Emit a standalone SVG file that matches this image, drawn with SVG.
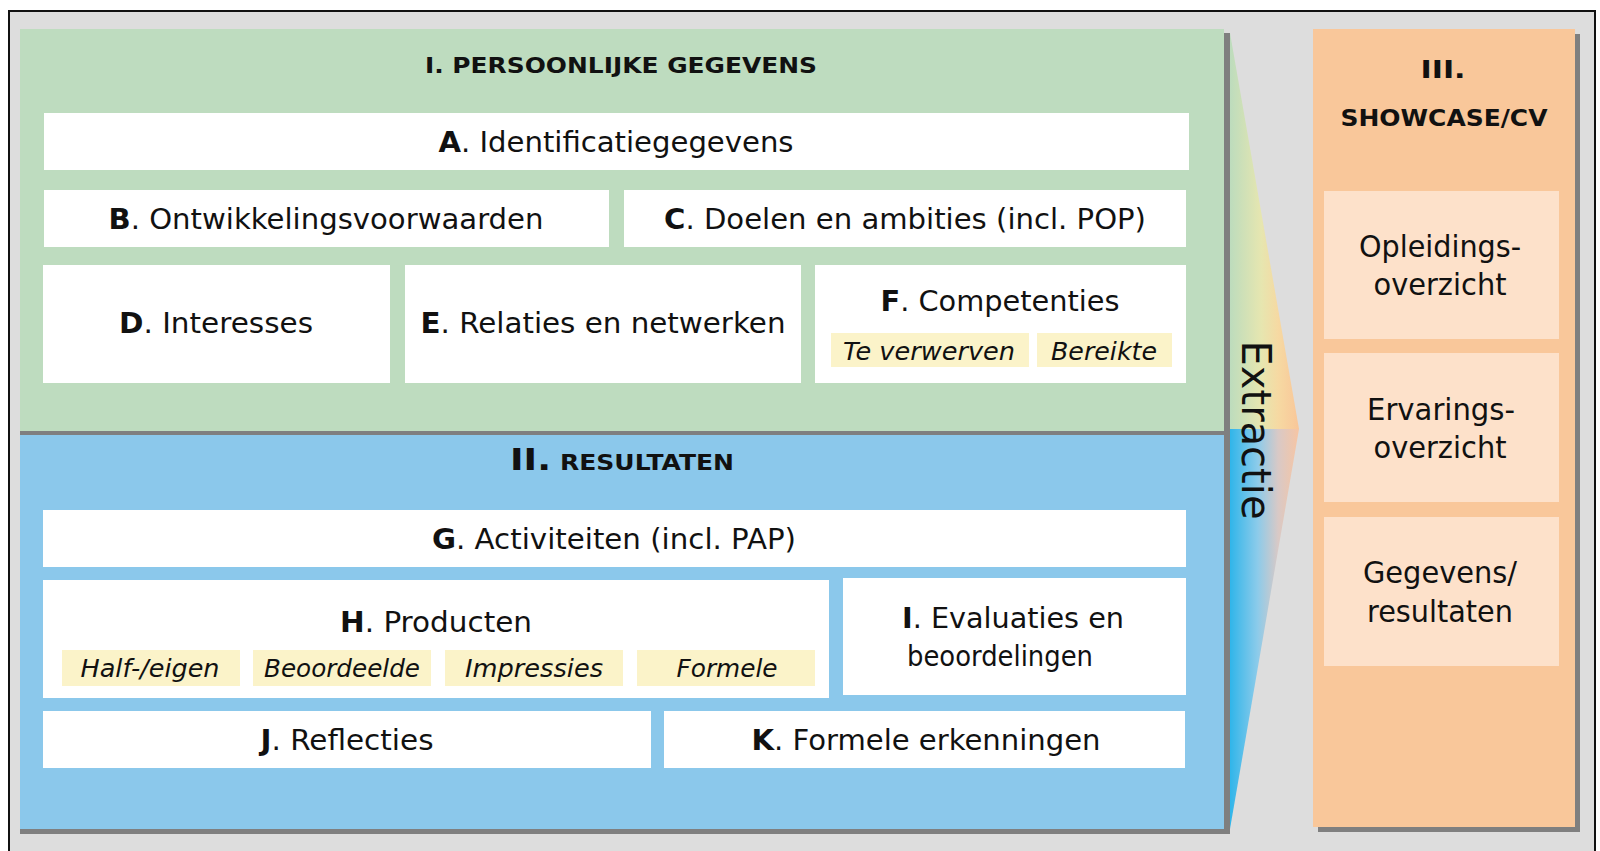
<svg xmlns="http://www.w3.org/2000/svg" width="1600" height="851" viewBox="0 0 1600 851">
<defs>
<style>
text{font-family:"DejaVu Sans","Verdana",sans-serif;fill:#111;}
.lbl{font-size:29px;text-anchor:middle;}
.b{font-weight:bold;}
.sub{font-size:24px;font-style:italic;text-anchor:middle;}
.rt{font-size:30px;text-anchor:middle;}
.ttl{font-weight:bold;text-anchor:middle;}
.wbox{fill:#ffffff;}
.ybox{fill:#fbf3c9;}
.obox{fill:#fde1ca;}
.shadow{fill:#7f7f7f;}
</style>
<linearGradient id="gUp" x1="1230" y1="0" x2="1299" y2="0" gradientUnits="userSpaceOnUse">
<stop offset="0" stop-color="#bddcbd"/>
<stop offset="0.45" stop-color="#e6e6b0"/>
<stop offset="0.7" stop-color="#f6d9a2"/>
<stop offset="1" stop-color="#f9c699"/>
</linearGradient>
<linearGradient id="gDn" x1="1230" y1="0" x2="1299" y2="0" gradientUnits="userSpaceOnUse">
<stop offset="0" stop-color="#30b5ea"/>
<stop offset="0.4" stop-color="#8ccbea"/>
<stop offset="0.7" stop-color="#d9c9c6"/>
<stop offset="1" stop-color="#f7c5a3"/>
</linearGradient>
</defs>

<rect x="0" y="0" width="1600" height="851" fill="#ffffff"/>
<rect id="frame" x="9" y="11" width="1586" height="860" fill="#dddddd" stroke="#111" stroke-width="2"/>

<g id="connectors">
<polygon points="1230,33 1299,429 1230,429" fill="url(#gUp)"/>
<polygon points="1230,429 1299,429 1230,829" fill="url(#gDn)"/>
<text transform="translate(1242,430) rotate(90)" style="font-size:40px;text-anchor:middle;">Extractie</text>
</g>

<g id="panel-I">
<rect class="shadow" x="20" y="33" width="1210" height="801"/>
<rect x="20" y="29" width="1204" height="402" fill="#bedcbf"/>
<text class="ttl" x="621" y="73" style="font-size:22px" textLength="392" lengthAdjust="spacingAndGlyphs">I. PERSOONLIJKE GEGEVENS</text>
</g>

<g id="node-A">
<rect class="wbox" x="44" y="113" width="1145" height="57"/>
<text class="lbl" x="616" y="152" textLength="355" lengthAdjust="spacingAndGlyphs"><tspan class="b">A</tspan>. Identificatiegegevens</text>
</g>
<g id="node-B">
<rect class="wbox" x="44" y="190" width="565" height="57"/>
<text class="lbl" x="326" y="229" textLength="435" lengthAdjust="spacingAndGlyphs"><tspan class="b">B</tspan>. Ontwikkelingsvoorwaarden</text>
</g>
<g id="node-C">
<rect class="wbox" x="624" y="190" width="562" height="57"/>
<text class="lbl" x="905" y="229" textLength="482" lengthAdjust="spacingAndGlyphs"><tspan class="b">C</tspan>. Doelen en ambities (incl. POP)</text>
</g>
<g id="node-D">
<rect class="wbox" x="43" y="265" width="347" height="118"/>
<text class="lbl" x="216" y="333" textLength="194" lengthAdjust="spacingAndGlyphs"><tspan class="b">D</tspan>. Interesses</text>
</g>
<g id="node-E">
<rect class="wbox" x="405" y="265" width="396" height="118"/>
<text class="lbl" x="603" y="333" textLength="365" lengthAdjust="spacingAndGlyphs"><tspan class="b">E</tspan>. Relaties en netwerken</text>
</g>
<g id="node-F">
<rect class="wbox" x="815" y="265" width="371" height="118"/>
<text class="lbl" x="1000" y="311" style="font-size:28px" textLength="239" lengthAdjust="spacingAndGlyphs"><tspan class="b">F</tspan>. Competenties</text>
<rect class="ybox" x="831" y="333" width="198" height="34"/>
<rect class="ybox" x="1037" y="333" width="135" height="34"/>
<text class="sub" x="929" y="360" textLength="172" lengthAdjust="spacingAndGlyphs">Te verwerven</text>
<text class="sub" x="1104" y="360" textLength="106" lengthAdjust="spacingAndGlyphs">Bereikte</text>
</g>

<g id="panel-II">
<rect x="20" y="435" width="1204" height="394" fill="#8bc8eb"/>
<text class="b" x="510" y="470" style="font-size:30px" textLength="41" lengthAdjust="spacingAndGlyphs">II.</text>
<text class="b" x="560" y="470" style="font-size:22px" textLength="174" lengthAdjust="spacingAndGlyphs">RESULTATEN</text>
</g>

<g id="node-G">
<rect class="wbox" x="43" y="510" width="1143" height="57"/>
<text class="lbl" x="614" y="549" textLength="364" lengthAdjust="spacingAndGlyphs"><tspan class="b">G</tspan>. Activiteiten (incl. PAP)</text>
</g>
<g id="node-H">
<rect class="wbox" x="43" y="580" width="786" height="118"/>
<text class="lbl" x="436" y="632" textLength="192" lengthAdjust="spacingAndGlyphs"><tspan class="b">H</tspan>. Producten</text>
<rect class="ybox" x="62" y="650" width="178" height="36"/>
<rect class="ybox" x="253" y="650" width="178" height="36"/>
<rect class="ybox" x="445" y="650" width="178" height="36"/>
<rect class="ybox" x="637" y="650" width="178" height="36"/>
<text class="sub" x="150" y="677" textLength="139" lengthAdjust="spacingAndGlyphs">Half-/eigen</text>
<text class="sub" x="342" y="677" textLength="156" lengthAdjust="spacingAndGlyphs">Beoordeelde</text>
<text class="sub" x="534" y="677" textLength="138" lengthAdjust="spacingAndGlyphs">Impressies</text>
<text class="sub" x="727" y="677" textLength="101" lengthAdjust="spacingAndGlyphs">Formele</text>
</g>
<g id="node-I">
<rect class="wbox" x="843" y="578" width="343" height="117"/>
<text class="lbl" x="1013" y="628" style="font-size:28px" textLength="222" lengthAdjust="spacingAndGlyphs"><tspan class="b">I</tspan>. Evaluaties en</text>
<text class="lbl" x="1000" y="666" style="font-size:28px" textLength="186" lengthAdjust="spacingAndGlyphs">beoordelingen</text>
</g>
<g id="node-J">
<rect class="wbox" x="43" y="711" width="608" height="57"/>
<text class="lbl" x="347" y="750" textLength="173" lengthAdjust="spacingAndGlyphs"><tspan class="b">J</tspan>. Reflecties</text>
</g>
<g id="node-K">
<rect class="wbox" x="664" y="711" width="521" height="57"/>
<text class="lbl" x="926" y="750" textLength="349" lengthAdjust="spacingAndGlyphs"><tspan class="b">K</tspan>. Formele erkenningen</text>
</g>

<g id="panel-III">
<rect class="shadow" x="1318" y="34" width="262" height="798"/>
<rect x="1313" y="29" width="262" height="798" fill="#f9c79a"/>
<text class="ttl" x="1443" y="78" style="font-size:24px" textLength="45" lengthAdjust="spacingAndGlyphs">III.</text>
<text class="ttl" x="1444" y="126" style="font-size:23px" textLength="207" lengthAdjust="spacingAndGlyphs">SHOWCASE/CV</text>
</g>
<g id="node-opleiding">
<rect class="obox" x="1324" y="191" width="235" height="148"/>
<text class="rt" x="1440" y="257" textLength="162" lengthAdjust="spacingAndGlyphs">Opleidings-</text>
<text class="rt" x="1440" y="295" textLength="133" lengthAdjust="spacingAndGlyphs">overzicht</text>
</g>
<g id="node-ervaring">
<rect class="obox" x="1324" y="353" width="235" height="149"/>
<text class="rt" x="1441" y="420" textLength="148" lengthAdjust="spacingAndGlyphs">Ervarings-</text>
<text class="rt" x="1440" y="458" textLength="133" lengthAdjust="spacingAndGlyphs">overzicht</text>
</g>
<g id="node-gegevens">
<rect class="obox" x="1324" y="517" width="235" height="149"/>
<text class="rt" x="1440" y="583" textLength="154" lengthAdjust="spacingAndGlyphs">Gegevens/</text>
<text class="rt" x="1440" y="622" textLength="146" lengthAdjust="spacingAndGlyphs">resultaten</text>
</g>
</svg>
